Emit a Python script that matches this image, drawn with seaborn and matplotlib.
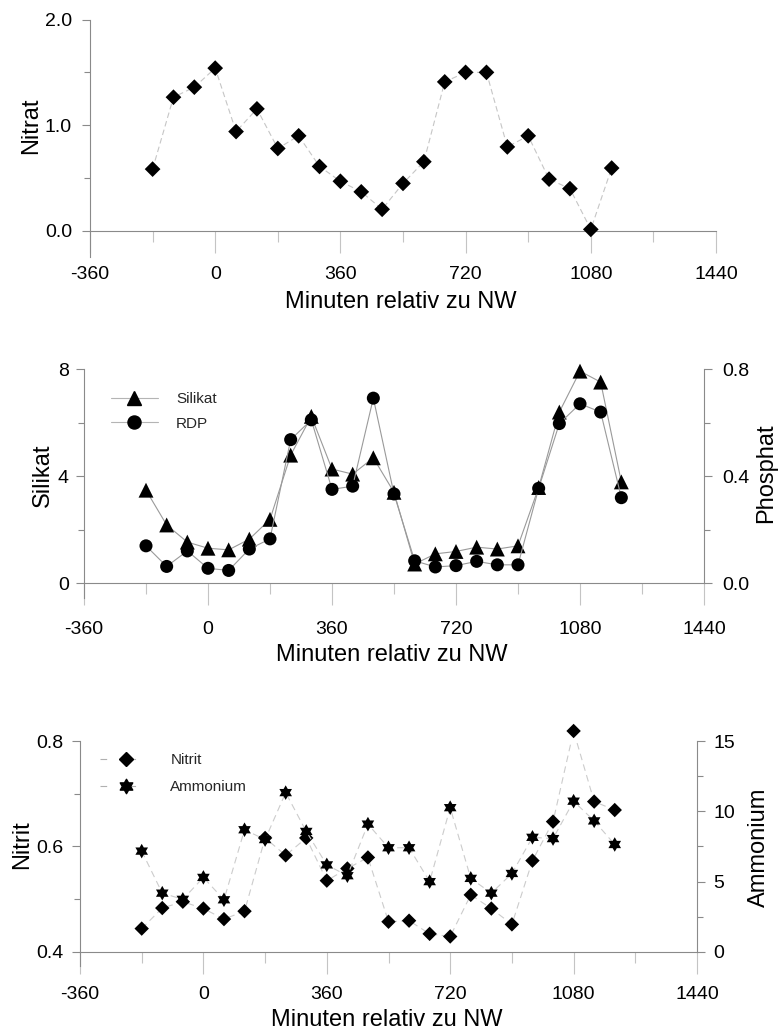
import matplotlib
matplotlib.use("Agg")
import matplotlib.pyplot as plt
import seaborn as sns
import pandas as pd
from matplotlib.ticker import MultipleLocator, FormatStrFormatter
from matplotlib.lines import Line2D
from matplotlib.path import Path

# ---------------- data ----------------
minutes_nitrat = [-180, -120, -60, 0, 60, 120, 180, 240, 300, 360, 420, 480,
                  540, 600, 660, 720, 780, 840, 900, 960, 1020, 1080, 1140]
nitrat = [0.585, 1.265, 1.36, 1.54, 0.94, 1.155, 0.78, 0.90, 0.61, 0.47, 0.37, 0.205,
          0.45, 0.655, 1.41, 1.50, 1.50, 0.795, 0.90, 0.49, 0.40, 0.015, 0.595]

minutes = [-180, -120, -60, 0, 60, 120, 180, 240, 300, 360, 420, 480,
           540, 600, 660, 720, 780, 840, 900, 960, 1020, 1080, 1140, 1200]
silikat = [3.47, 2.17, 1.53, 1.30, 1.24, 1.64, 2.38, 4.78, 6.23, 4.26, 4.07, 4.68,
           3.39, 0.71, 1.09, 1.18, 1.34, 1.27, 1.39, 3.57, 6.39, 7.92, 7.51, 3.78]
phosphat = [0.139, 0.062, 0.120, 0.055, 0.047, 0.127, 0.165, 0.536, 0.610, 0.350, 0.362, 0.691,
            0.333, 0.083, 0.060, 0.065, 0.081, 0.068, 0.068, 0.354, 0.596, 0.670, 0.639, 0.319]

nitrit = [0.444, 0.483, 0.495, 0.482, 0.462, 0.477, 0.616, 0.583, 0.616, 0.535, 0.558, 0.579,
          0.457, 0.459, 0.434, 0.429, 0.508, 0.482, 0.452, 0.573, 0.647, 0.819, 0.685, 0.669]
ammonium = [7.17, 4.18, 3.74, 5.30, 3.71, 8.69, 7.99, 11.33, 8.57, 6.19, 5.42, 9.09,
            7.41, 7.41, 5.00, 10.26, 5.23, 4.18, 5.58, 8.15, 8.06, 10.72, 9.32, 7.64]

x_ticks = [-360, 0, 360, 720, 1080, 1440]
xlabel = "Minuten relativ zu NW"

# ---------------- style ----------------
sns.set_theme(style="white")
plt.rcParams["font.family"] = ["Liberation Sans", "DejaVu Sans"]
plt.rcParams["axes.unicode_minus"] = False

W, H = 778, 1031
fig = plt.figure(figsize=(W / 100, H / 100), dpi=100)

def px_axes(left, right, top, bottom):
    return fig.add_axes([left / W, 1 - bottom / H, (right - left) / W, (bottom - top) / H])

ax1 = px_axes(90, 716, 19.5, 257.4)
ax2 = px_axes(84, 704, 369, 598)
ax3 = px_axes(80, 697, 741, 966)

SPINE = "#8a8a8a"
TICK = "#c4c4c4"
TICKFS = 14
LABFS = 17

star6 = Path.unit_regular_star(6, 0.577)

def style_x(ax, y0, pad):
    ax.set_xlim(-360, 1440)
    ax.set_xticks(x_ticks)
    ax.xaxis.set_minor_locator(MultipleLocator(180))
    ax.spines["bottom"].set_position(("data", y0))
    ax.spines["bottom"].set_color(SPINE)
    ax.spines["bottom"].set_linewidth(0.8)
    ax.spines["top"].set_visible(False)
    ax.tick_params(axis="x", which="major", bottom=True, direction="out", length=16,
                   width=0.8, color=TICK, pad=pad, labelsize=TICKFS, labelcolor="black")
    ax.tick_params(axis="x", which="minor", bottom=True, direction="out", length=8,
                   width=0.8, color=TICK)
    ax.set_xlabel(xlabel, fontsize=LABFS, color="black")

def style_y(ax, side, major, minor, fmt, pad=6):
    ax.yaxis.set_major_locator(MultipleLocator(major))
    ax.yaxis.set_minor_locator(MultipleLocator(minor))
    ax.yaxis.set_major_formatter(FormatStrFormatter(fmt))
    ax.spines[side].set_visible(True)
    ax.spines[side].set_color(SPINE)
    ax.spines[side].set_linewidth(0.8)
    other = "right" if side == "left" else "left"
    ax.spines[other].set_visible(False)
    kw = dict(left=(side == "left"), right=(side == "right"),
              labelleft=(side == "left"), labelright=(side == "right"))
    ax.tick_params(axis="y", which="major", direction="out", length=6, width=0.8,
                   color=SPINE, pad=pad, labelsize=TICKFS, labelcolor="black", **kw)
    ax.tick_params(axis="y", which="minor", direction="out", length=4, width=0.8,
                   color=SPINE, left=(side == "left"), right=(side == "right"))

# ---------------- panel 1: Nitrat ----------------
sns.lineplot(x=minutes_nitrat, y=nitrat, ax=ax1, color="#c6c6c6", linewidth=0.8,
             linestyle=(0, (5, 3)), estimator=None, sort=False, zorder=2)
sns.scatterplot(x=minutes_nitrat, y=nitrat, ax=ax1, marker="D", s=64, color="black",
                edgecolor="none", linewidth=0, zorder=3, clip_on=False)
ax1.set_ylim(-0.25, 2.0)
style_x(ax1, 0, 9)
style_y(ax1, "left", 1.0, 0.5, "%.1f", pad=7)
ax1.set_ylabel("Nitrat", fontsize=LABFS, color="black")
ax1.yaxis.set_label_coords(-0.077, 0.552)
ax1.xaxis.set_label_coords(0.497, -0.14)

# ---------------- panel 2: Silikat / Phosphat ----------------
ax2r = ax2.twinx()
ax2r.set_position(ax2.get_position())
sns.lineplot(x=minutes, y=silikat, ax=ax2, color="#9a9a9a", linewidth=0.8,
             estimator=None, sort=False, zorder=2)
sns.scatterplot(x=minutes, y=silikat, ax=ax2, marker="^", s=115, color="black",
                edgecolor="none", linewidth=0, zorder=3, clip_on=False)
sns.lineplot(x=minutes, y=phosphat, ax=ax2r, color="#9a9a9a", linewidth=0.8,
             estimator=None, sort=False, zorder=2)
sns.scatterplot(x=minutes, y=phosphat, ax=ax2r, marker="o", s=88, color="black",
                edgecolor="none", linewidth=0, zorder=3, clip_on=False)
ax2.set_ylim(-0.56, 8.0)
ax2r.set_ylim(-0.056, 0.8)
style_x(ax2, 0, 11)
ax2r.spines["top"].set_visible(False)
ax2r.spines["bottom"].set_visible(False)
ax2r.tick_params(axis="x", which="both", bottom=False, labelbottom=False)
style_y(ax2, "left", 4, 2, "%d", pad=5)
style_y(ax2r, "right", 0.4, 0.2, "%.1f", pad=7)
ax2r.spines["right"].set_bounds(0, 0.8)
ax2.set_ylabel("Silikat", fontsize=LABFS, color="black")
ax2.yaxis.set_label_coords(-0.048, 0.537)
ax2r.set_ylabel("Phosphat", fontsize=LABFS, color="black")
ax2r.yaxis.set_label_coords(1.082, 0.546)
ax2.xaxis.set_label_coords(0.497, -0.2)

leg_handles2 = [
    Line2D([], [], color="#b4b4b4", lw=0.8, marker="^", markersize=10.7,
           markerfacecolor="black", markeredgecolor="black"),
    Line2D([], [], color="#b4b4b4", lw=0.8, marker="o", markersize=9.4,
           markerfacecolor="black", markeredgecolor="black"),
]
ax2r.legend(leg_handles2, ["Silikat", "RDP"], loc="upper left",
            bbox_to_anchor=(111 / W, 1 - 392 / H), bbox_transform=fig.transFigure,
            frameon=False, fontsize=11, borderpad=0, borderaxespad=0,
            handlelength=3.07, handletextpad=1.18, labelspacing=0.7)

# ---------------- panel 3: Nitrit / Ammonium ----------------
ax3r = ax3.twinx()
ax3r.set_position(ax3.get_position())
sns.lineplot(x=minutes, y=nitrit, ax=ax3, color="#cccccc", linewidth=0.8,
             linestyle=(0, (6, 4)), estimator=None, sort=False, zorder=2)
sns.scatterplot(x=minutes, y=nitrit, ax=ax3, marker="D", s=54, color="black",
                edgecolor="none", linewidth=0, zorder=3, clip_on=False)
sns.lineplot(x=minutes, y=ammonium, ax=ax3r, color="#cccccc", linewidth=0.8,
             linestyle=(0, (6, 4)), estimator=None, sort=False, zorder=2)
sns.scatterplot(x=minutes, y=ammonium, ax=ax3r, marker=star6, s=110, color="black",
                edgecolor="none", linewidth=0, zorder=3, clip_on=False)
ax3.set_ylim(0.373, 0.8)
ax3r.set_ylim(-1.0, 15.0)
style_x(ax3, 0.4, 9)
ax3r.spines["top"].set_visible(False)
ax3r.spines["bottom"].set_visible(False)
ax3r.tick_params(axis="x", which="both", bottom=False, labelbottom=False)
style_y(ax3, "left", 0.2, 0.1, "%.1f", pad=6)
style_y(ax3r, "right", 5, 2.5, "%d", pad=6)
ax3r.spines["right"].set_bounds(0, 15)
ax3.set_ylabel("Nitrit", fontsize=LABFS, color="black")
ax3.yaxis.set_label_coords(-0.076, 0.538)
ax3r.set_ylabel("Ammonium", fontsize=LABFS, color="black")
ax3r.yaxis.set_label_coords(1.083, 0.529)
ax3.xaxis.set_label_coords(0.497, -0.19)

leg_handles3 = [
    Line2D([], [], color="#b0b0b0", lw=0.8, linestyle=(0, (6, 20)), marker="D",
           markersize=7.6, markerfacecolor="black", markeredgecolor="black"),
    Line2D([], [], color="#b0b0b0", lw=0.8, linestyle=(0, (6, 20)), marker=star6,
           markersize=10.4, markerfacecolor="black", markeredgecolor="black"),
]
ax3r.legend(leg_handles3, ["Nitrit", "Ammonium"], loc="upper left",
            bbox_to_anchor=(100 / W, 1 - 753 / H), bbox_transform=fig.transFigure,
            frameon=False, fontsize=11, borderpad=0, borderaxespad=0,
            handlelength=3.4, handletextpad=1.2, labelspacing=0.88)

fig.savefig("out.png", dpi=100)
